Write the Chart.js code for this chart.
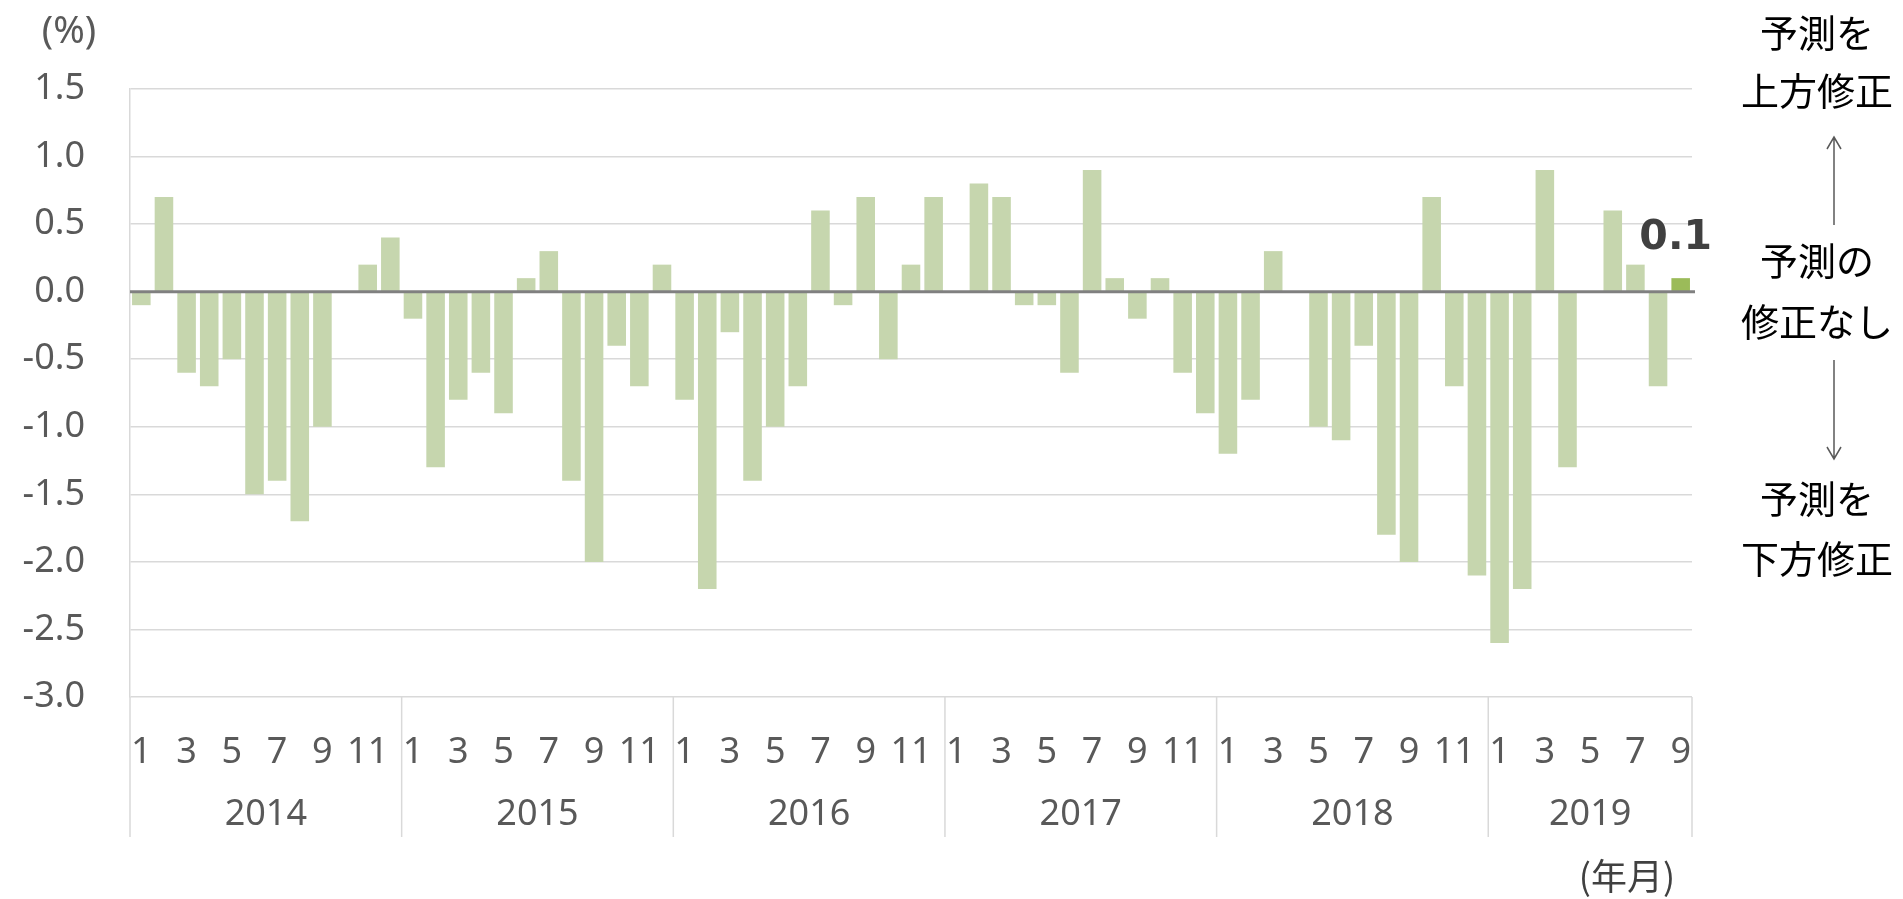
<!DOCTYPE html>
<html lang="ja">
<head>
<meta charset="utf-8">
<script src="https://cdn.jsdelivr.net/npm/chart.js@4.4.0/dist/chart.umd.min.js"></script>
<style>
    html, body { margin: 0; padding: 0; background: #fff; }
    #wrap { width: 1903px; height: 899px; }
</style>
</head>
<body>
<div id="wrap"><canvas id="revisionChart" width="1903" height="899"></canvas></div>
<script>
// Data
const years = ['2014', '2015', '2016', '2017', '2018', '2019'];
const monthsPerYear = [12, 12, 12, 12, 12, 9];
const revisions = [
    -0.1, 0.7, -0.6, -0.7, -0.5, -1.5, -1.4, -1.7, -1.0, 0.0, 0.2, 0.4,   // 2014
    -0.2, -1.3, -0.8, -0.6, -0.9, 0.1, 0.3, -1.4, -2.0, -0.4, -0.7, 0.2,  // 2015
    -0.8, -2.2, -0.3, -1.4, -1.0, -0.7, 0.6, -0.1, 0.7, -0.5, 0.2, 0.7,   // 2016
    0.0, 0.8, 0.7, -0.1, -0.1, -0.6, 0.9, 0.1, -0.2, 0.1, -0.6, -0.9,     // 2017
    -1.2, -0.8, 0.3, 0.0, -1.0, -1.1, -0.4, -1.8, -2.0, 0.7, -0.7, -2.1,  // 2018
    -2.6, -2.2, 0.9, -1.3, 0.0, 0.6, 0.2, -0.7, 0.1                       // 2019
];
const yMin = -3.0;
const yMax = 1.5;
const yStep = 0.5;
const rightNotes = [
    ['予測を', '上方修正'],
    ['予測の', '修正なし'],
    ['予測を', '下方修正']
];

// month number for every bar
const monthNums = [];
const labels = [];
years.forEach(function(y, yi) {
    for (let m = 1; m <= monthsPerYear[yi]; m++) {
        monthNums.push(m);
        labels.push(y + '/' + m);
    }
});

const baseColor = '#C6D6AE';
const lastColor = '#9BBB59';
const labelFont = '"Noto Sans", sans-serif';
const jpFont = '"Noto Sans CJK JP", sans-serif';

function drawArrow(ctx, x, y1, y2) {
    const dir = y2 > y1 ? 1 : -1;
    ctx.beginPath();
    ctx.moveTo(x, y1);
    ctx.lineTo(x, y2);
    ctx.moveTo(x - 7, y2 - dir * 12);
    ctx.lineTo(x, y2);
    ctx.lineTo(x + 7, y2 - dir * 12);
    ctx.stroke();
}

// extra drawing: zero line, year groups, value label, side notes
const decorations = {
    id: 'decorations',
    afterDatasetsDraw(chart) {
        const ctx = chart.ctx;
        const area = chart.chartArea;
        const xs = chart.scales.x;
        const ys = chart.scales.y;
        const half = (xs.getPixelForValue(1) - xs.getPixelForValue(0)) / 2;

        ctx.save();
        // zero line
        const y0 = ys.getPixelForValue(0);
        ctx.strokeStyle = '#808080';
        ctx.lineWidth = 3;
        ctx.beginPath();
        ctx.moveTo(area.left, y0);
        ctx.lineTo(area.right + 3, y0);
        ctx.stroke();

        // year separators and labels
        ctx.strokeStyle = '#d9d9d9';
        ctx.lineWidth = 1.5;
        ctx.fillStyle = '#595959';
        ctx.font = '36px ' + labelFont;
        ctx.textAlign = 'center';
        ctx.textBaseline = 'middle';
        let start = 0;
        years.forEach(function(y, yi) {
            const end = start + monthsPerYear[yi] - 1;
            const left = xs.getPixelForValue(start) - half;
            const right = xs.getPixelForValue(end) + half;
            ctx.beginPath();
            ctx.moveTo(left, area.bottom);
            ctx.lineTo(left, 837);
            if (yi === years.length - 1) {
                ctx.moveTo(right, area.bottom);
                ctx.lineTo(right, 837);
            }
            ctx.stroke();
            ctx.fillText(y, (left + right) / 2, 815);
            start = end + 1;
        });

        // value label on latest bar
        const lastBar = chart.getDatasetMeta(0).data[revisions.length - 1];
        ctx.fillStyle = '#404040';
        ctx.font = 'bold 41px "DejaVu Sans", sans-serif';
        ctx.textBaseline = 'alphabetic';
        ctx.fillText(revisions[revisions.length - 1].toFixed(1), lastBar.x - 5, lastBar.y - 29);

        // axis unit labels
        ctx.fillStyle = '#595959';
        ctx.font = '38px ' + labelFont;
        ctx.textBaseline = 'middle';
        ctx.fillText('(%)', 69, 32);
        ctx.fillStyle = '#404040';
        ctx.font = '36px ' + jpFont;
        ctx.fillText('(年月)', 1627, 876);

        // right side notes
        ctx.fillStyle = '#000';
        ctx.font = '38px ' + jpFont;
        const noteY = [[33, 91], [261, 322], [499, 559]];
        rightNotes.forEach(function(pair, i) {
            ctx.fillText(pair[0], 1817, noteY[i][0]);
            ctx.fillText(pair[1], 1817, noteY[i][1]);
        });
        ctx.strokeStyle = '#595959';
        ctx.lineWidth = 1.5;
        drawArrow(ctx, 1834, 225, 137);
        drawArrow(ctx, 1834, 360, 459);
        ctx.restore();
    }
};

const ctx = document.getElementById('revisionChart').getContext('2d');
const revisionChart = new Chart(ctx, {
    type: 'bar',
    data: {
        labels: labels,
        datasets: [{
            data: revisions,
            backgroundColor: revisions.map((v, i) => i === revisions.length - 1 ? lastColor : baseColor),
            borderWidth: 0,
            barPercentage: 0.82,
            categoryPercentage: 1.0
        }]
    },
    options: {
        responsive: false,
        animation: false,
        layout: {
            padding: { left: 0, right: 211, top: 89, bottom: 0 }
        },
        plugins: {
            legend: { display: false },
            tooltip: { enabled: false }
        },
        scales: {
            x: {
                offset: true,
                grid: { display: false },
                border: { display: false },
                ticks: {
                    autoSkip: false,
                    maxRotation: 0,
                    minRotation: 0,
                    padding: 26,
                    color: '#595959',
                    font: { family: labelFont, size: 36 },
                    callback: function(value, index) {
                        return monthNums[index] % 2 === 1 ? String(monthNums[index]) : '';
                    }
                },
                afterFit: function(scale) { scale.height = 202; }
            },
            y: {
                min: yMin,
                max: yMax,
                ticks: {
                    stepSize: yStep,
                    padding: 45,
                    color: '#595959',
                    font: { family: labelFont, size: 36 },
                    callback: function(value) { return value.toFixed(1); }
                },
                grid: {
                    drawTicks: false,
                    color: '#d9d9d9',
                    lineWidth: 1.5
                },
                border: { display: true, color: '#d9d9d9', width: 1.5 },
                afterFit: function(scale) { scale.width = 130; }
            }
        }
    },
    plugins: [decorations]
});
</script>
</body>
</html>
